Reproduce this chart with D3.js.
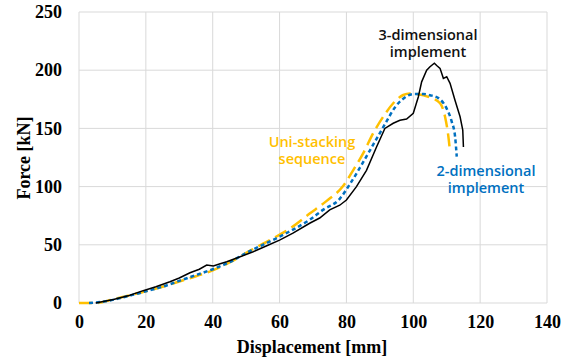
<!DOCTYPE html>
<html>
<head>
<meta charset="utf-8">
<script src="https://cdn.jsdelivr.net/npm/d3@7"></script>
<style>
  body { margin: 0; background: #fff; }
  svg { display: block; }
</style>
</head>
<body>
<div class="chart"></div>
<script>
// series values
let disp3D  = [5, 10.3, 15, 19.2, 23, 27.2, 30, 33.2, 36, 38.2, 40.2, 42, 44.2, 48, 52.1, 56, 60, 64, 69, 72, 75, 78, 80, 83, 86, 89, 91.5, 94, 96, 98, 100, 101.5, 102.5, 104, 105, 106.3, 107, 108, 109, 110, 111, 112.5, 114, 114.8, 115];
let force3D = [0, 3, 6.5, 10.6, 14, 18.3, 21.5, 26, 29, 32.6, 31.8, 33.5, 35.5, 39.5, 44, 49, 54, 60, 68.5, 73, 80, 84, 88.5, 100, 114, 134, 150, 154.4, 157, 158, 163, 177, 190, 200, 203, 206, 204, 201.6, 193, 194.4, 188.7, 174, 160, 148.6, 134];

let disp2D  = [3, 8, 12, 16, 20, 25, 30, 35, 40, 45, 50, 55, 60, 64, 69, 73, 78, 81, 84, 87, 90, 92, 94.5, 97, 100, 103, 105, 107.5, 110, 111.5, 112.5, 113];
let force2D = [0, 1.5, 4, 7, 10, 14, 19, 24, 29, 35, 43, 50, 57, 63, 71.5, 80, 89.5, 102, 116, 131, 146, 156, 168, 175.5, 179.5, 179.5, 178.5, 176, 167, 155.8, 143, 125.7];

let dispUni  = [0, 5, 10, 15, 20, 25, 30, 35, 40, 45.2, 51.2, 57.1, 63.1, 69.1, 74, 79, 82, 85, 88, 91, 94, 97, 99, 101, 105, 108, 109.5, 110.5, 111];
let forceUni = [0, 0, 3, 6.5, 10, 14, 18.5, 23, 28, 35, 45, 54, 64, 77, 87.5, 100.5, 114, 128.6, 145.8, 160, 171.6, 178.7, 180, 179.5, 176.5, 171.6, 160, 143, 130];

let xTicks = [0, 20, 40, 60, 80, 100, 120, 140];
let yTicks = [0, 50, 100, 150, 200, 250];

let width = 570;
let height = 364;
let plotLeft = 79, plotRight = 547, plotTop = 12, plotBottom = 303;

let svg = d3.select('.chart')
            .append('svg')
            .attr('width', width)
            .attr('height', height);

let x = d3.scaleLinear().domain([0, 140]).range([plotLeft, plotRight]);
let y = d3.scaleLinear().domain([0, 250]).range([plotBottom, plotTop]);

// gridlines
svg.append('g')
   .selectAll('line')
   .data(xTicks)
   .enter()
   .append('line')
   .attr('x1', d => x(d)).attr('x2', d => x(d))
   .attr('y1', plotTop).attr('y2', plotBottom)
   .attr('stroke', '#d9d9d9').attr('stroke-width', 1);
svg.append('g')
   .selectAll('line')
   .data(yTicks)
   .enter()
   .append('line')
   .attr('x1', plotLeft).attr('x2', plotRight)
   .attr('y1', d => y(d)).attr('y2', d => y(d))
   .attr('stroke', '#d9d9d9').attr('stroke-width', 1);

// axes (labels only)
let tickFont = '"Liberation Serif", "Times New Roman", serif';
let xAxis = d3.axisBottom(x).tickValues(xTicks).tickSize(0).tickPadding(12);
let yAxis = d3.axisLeft(y).tickValues(yTicks).tickSize(0).tickPadding(17);
let gx = svg.append('g').attr('transform', 'translate(0,' + plotBottom + ')').call(xAxis);
let gy = svg.append('g').attr('transform', 'translate(' + plotLeft + ',0)').call(yAxis);
[gx, gy].forEach(g => {
  g.select('.domain').remove();
  g.selectAll('text')
   .attr('fill', '#000')
   .style('font-family', tickFont)
   .style('font-weight', 'bold')
   .style('font-size', '18px');
});

svg.append('text')
   .attr('x', (plotLeft + plotRight) / 2 - 1)
   .attr('y', 353)
   .attr('text-anchor', 'middle')
   .style('font-family', tickFont)
   .style('font-weight', 'bold')
   .style('font-size', '18px')
   .text('Displacement [mm]');
svg.append('text')
   .attr('transform', 'translate(30,158) rotate(-90)')
   .attr('text-anchor', 'middle')
   .style('font-family', tickFont)
   .style('font-weight', 'bold')
   .style('font-size', '18px')
   .text('Force [kN]');

function series(xs, ys) {
  return xs.map((d, i) => [d, ys[i]]);
}
let line = d3.line().x(d => x(d[0])).y(d => y(d[1]));

svg.append('path')
   .datum(series(dispUni, forceUni))
   .attr('d', line.curve(d3.curveMonotoneX))
   .attr('fill', 'none')
   .attr('stroke', '#FFC000')
   .attr('stroke-width', 2.5)
   .attr('stroke-dasharray', '13,6');

svg.append('path')
   .datum(series(disp2D, force2D))
   .attr('d', line.curve(d3.curveMonotoneX))
   .attr('fill', 'none')
   .attr('stroke', '#0070C0')
   .attr('stroke-width', 2.5)
   .attr('stroke-dasharray', '4,3');

svg.append('path')
   .datum(series(disp3D, force3D))
   .attr('d', line.curve(d3.curveLinear))
   .attr('fill', 'none')
   .attr('stroke', '#000')
   .attr('stroke-width', 1.5);

// series labels
let labelFont = '"Open Sans", "Noto Sans", sans-serif';
let labels = [
  {lines: ['3-dimensional', 'implement'], cx: 428, y0: 40, color: '#111'},
  {lines: ['2-dimensional', 'implement'], cx: 486, y0: 176, color: '#0070C0'},
  {lines: ['Uni-stacking', 'sequence'], cx: 312, y0: 147, color: '#FFC000'}
];
labels.forEach(l => {
  let t = svg.append('text')
             .attr('x', l.cx)
             .attr('y', l.y0)
             .attr('text-anchor', 'middle')
             .attr('fill', l.color)
             .style('font-family', labelFont)
             .style('font-weight', 600)
             .style('font-size', '14.5px');
  l.lines.forEach((s, i) => {
    t.append('tspan')
     .attr('x', l.cx)
     .attr('dy', i === 0 ? 0 : 17)
     .text(s);
  });
});
</script>
</body>
</html>
